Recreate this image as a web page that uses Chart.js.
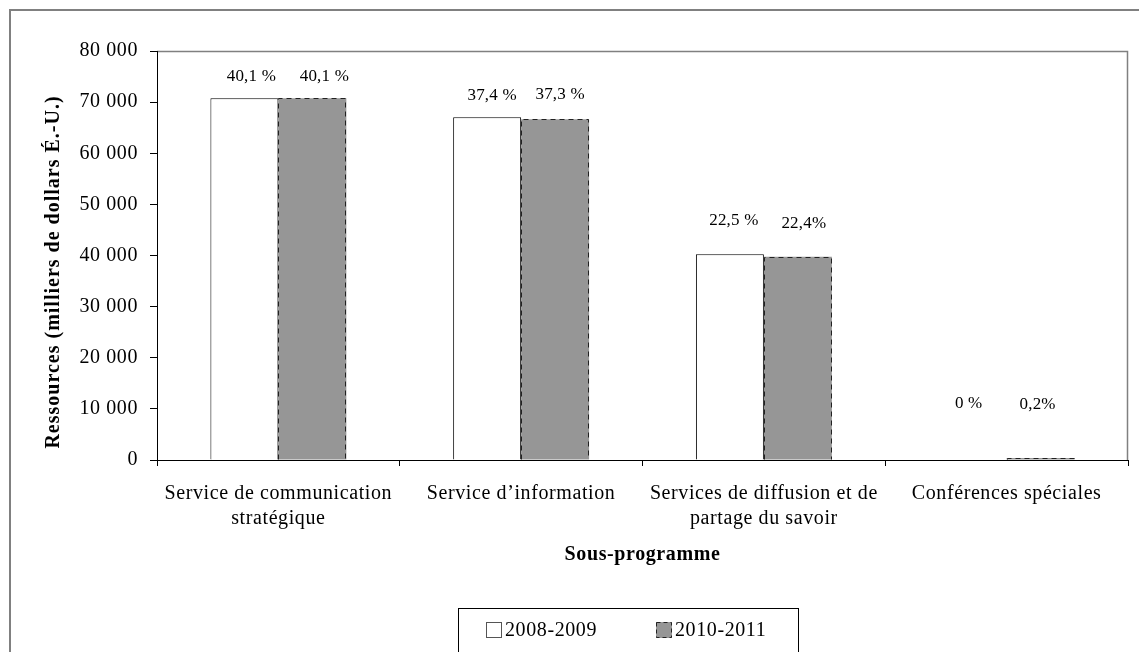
<!DOCTYPE html>
<html>
<head>
<meta charset="utf-8">
<script src="https://cdn.jsdelivr.net/npm/chart.js@4.4.1/dist/chart.umd.min.js"></script>
<style>
  html, body { margin: 0; padding: 0; background: #fff; }
  #wrap { width: 1139px; height: 652px; }
</style>
</head>
<body>
<div id="wrap"><canvas id="chart"></canvas></div>
<script>
const categories = [
    ["Service de communication", "stratégique"],
    ["Service d’information"],
    ["Services de diffusion et de", "partage du savoir"],
    ["Conférences spéciales"]
];
const seriesNames = ["2008-2009", "2010-2011"];
const values2008 = [70750, 67030, 40230, 0];
const values2010 = [70750, 66640, 39770, 400];
const pct2008 = ["40,1 %", "37,4 %", "22,5 %", "0 %"];
const pct2010 = ["40,1 %", "37,3 %", "22,4%", "0,2%"];
const yTitle = "Ressources (milliers de dollars É.-U.)";

const serif = "'Liberation Serif', 'Times New Roman', serif";
const grey = "#969696";

// cadre gris autour du graphique et de la zone de tracé
const framePlugin = {
    id: "frame",
    beforeDraw(chart) {
        const { ctx, chartArea: a } = chart;
        ctx.save();
        ctx.fillStyle = "#fff";
        ctx.fillRect(0, 0, chart.width, chart.height);
        ctx.strokeStyle = "#808080";
        ctx.lineWidth = 2;
        ctx.strokeRect(10, 10, chart.width + 20, chart.height + 20);
        ctx.lineWidth = 1.5;
        ctx.beginPath();
        ctx.moveTo(a.left, a.top + 0.5);
        ctx.lineTo(a.right - 0.5, a.top + 0.5);
        ctx.lineTo(a.right - 0.5, a.bottom);
        ctx.stroke();
        ctx.restore();
        // texte un peu espacé comme dans l'original
        ctx.letterSpacing = "0.6px";
    }
};

// bordure en tirets pour la série 2010-2011 + étiquettes de pourcentage
const barExtras = {
    id: "barExtras",
    afterDatasetsDraw(chart, args, opts) {
        const ctx = chart.ctx;
        ctx.save();
        const meta = chart.getDatasetMeta(1);
        ctx.strokeStyle = "#222";
        ctx.lineWidth = 1;
        ctx.setLineDash([5, 4]);
        meta.data.forEach(bar => {
            const l = Math.round(bar.x - bar.width / 2) + 0.5;
            const r = Math.round(bar.x + bar.width / 2) - 0.5;
            const t = Math.round(bar.y) + 0.5;
            ctx.beginPath();
            ctx.moveTo(l, bar.base);
            ctx.lineTo(l, t);
            ctx.lineTo(r, t);
            ctx.lineTo(r, bar.base);
            ctx.stroke();
        });
        ctx.setLineDash([]);

        ctx.fillStyle = "#000";
        ctx.font = "17px " + serif;
        ctx.letterSpacing = "0.2px";
        ctx.textAlign = "center";
        ctx.textBaseline = "middle";
        [pct2008, pct2010].forEach((labels, i) => {
            chart.getDatasetMeta(i).data.forEach((bar, j) => {
                ctx.fillText(labels[j], bar.x + opts.dx[i][j], bar.y - opts.offsets[i][j]);
            });
        });
        ctx.restore();
    }
};

// titre de l'axe vertical + légende encadrée en bas
const boxedLegend = {
    id: "boxedLegend",
    afterDraw(chart) {
        const ctx = chart.ctx;
        ctx.save();
        ctx.translate(54, 272);
        ctx.rotate(-Math.PI / 2);
        ctx.font = "bold 20px " + serif;
        ctx.letterSpacing = "1px";
        ctx.fillStyle = "#000";
        ctx.textAlign = "center";
        ctx.textBaseline = "middle";
        ctx.fillText(yTitle, 0, 0);
        ctx.restore();

        ctx.save();
        ctx.strokeStyle = "#000";
        ctx.lineWidth = 1;
        ctx.strokeRect(458.5, 608.5, 340, 60);
        const xs = [486, 656];
        ctx.font = "20px " + serif;
        ctx.letterSpacing = "0.6px";
        ctx.textBaseline = "middle";
        ctx.textAlign = "left";
        chart.data.datasets.forEach((ds, i) => {
            const x = xs[i];
            ctx.fillStyle = ds.backgroundColor;
            ctx.fillRect(x, 622, 16, 16);
            ctx.strokeStyle = i === 0 ? "#555" : "#222";
            ctx.setLineDash(i === 0 ? [] : [4, 3]);
            ctx.strokeRect(x + 0.5, 622.5, 15, 15);
            ctx.setLineDash([]);
            ctx.fillStyle = "#000";
            ctx.fillText(ds.label, x + 19, 631);
        });
        ctx.restore();
    }
};

new Chart(document.getElementById("chart"), {
    type: "bar",
    data: {
        labels: categories,
        datasets: [
            {
                label: seriesNames[0],
                data: values2008,
                backgroundColor: "#ffffff",
                borderColor: "#000",
                borderWidth: 1,
                borderSkipped: "bottom"
            },
            {
                label: seriesNames[1],
                data: values2010,
                backgroundColor: grey,
                borderWidth: 0
            }
        ]
    },
    options: {
        responsive: true,
        maintainAspectRatio: false,
        animation: false,
        devicePixelRatio: 1,
        layout: { padding: { left: 0, top: 51, right: 11, bottom: 0 } },
        datasets: { bar: { barPercentage: 1, categoryPercentage: 0.56 } },
        plugins: {
            legend: { display: false },
            tooltip: { enabled: false },
            barExtras: {
                offsets: [[22, 22, 34, 56], [22, 25, 33, 53]],
                dx: [[7, 5, 4, -4], [12, 5, 6, -3]]
            }
        },
        scales: {
            x: {
                afterFit(scale) { scale.height = 192; },
                grid: { offset: true, drawOnChartArea: false, tickLength: 6, color: "#000" },
                border: { display: true, color: "#000", width: 1 },
                ticks: {
                    color: "#000",
                    font: { family: serif, size: 20, lineHeight: 1.25 },
                    padding: 15,
                    maxRotation: 0,
                    autoSkip: false
                },
                title: {
                    display: true,
                    text: "Sous-programme",
                    color: "#000",
                    font: { family: serif, size: 20, weight: "bold", lineHeight: 1.2 },
                    padding: { top: 0, bottom: 85 }
                }
            },
            y: {
                min: 0,
                max: 80000,
                afterFit(scale) { scale.width = 157; },
                grid: { drawOnChartArea: false, tickLength: 7, color: "#000" },
                border: { display: true, color: "#000", width: 1 },
                ticks: {
                    stepSize: 10000,
                    color: "#000",
                    padding: 12,
                    font: { family: serif, size: 20 },
                    callback: v => String(v).replace(/\B(?=(\d{3})+(?!\d))/g, " ")
                },
                title: { display: false }
            }
        }
    },
    plugins: [framePlugin, barExtras, boxedLegend]
});
</script>
</body>
</html>
